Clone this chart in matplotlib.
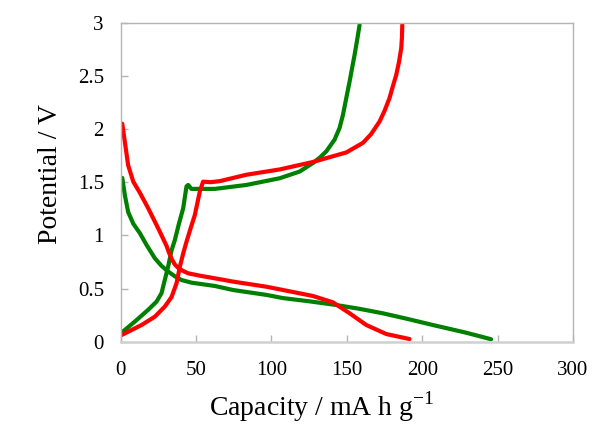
import matplotlib
matplotlib.use("Agg")
import matplotlib.pyplot as plt

# Green discharge
g_dis_x = [1.1, 2.8, 5.0, 8.4, 12.8, 17.2, 22.7, 27.0, 31.5, 36.0, 40.4, 47.0, 62.5, 74.6, 96.7, 107.7, 125.0, 143.0, 158.0, 173.9, 190.0, 207.0, 229.0, 245.7]
g_dis_y = [1.54, 1.38, 1.22, 1.11, 1.02, 0.91, 0.785, 0.715, 0.66, 0.615, 0.58, 0.555, 0.524, 0.486, 0.44, 0.41, 0.38, 0.345, 0.31, 0.267, 0.215, 0.157, 0.085, 0.023]
# Green charge
g_ch_x = [0.7, 9.5, 18.3, 23.8, 27.1, 29.3, 31.5, 33.8, 36.0, 38.5, 41.5, 43.7, 44.8, 47.0, 62.5, 83.4, 105.5, 118.7, 127.5, 132.0, 136.4, 141.9, 145.2, 147.4, 149.5, 151.9, 153.6, 155.2, 157.0, 158.5]
g_ch_y = [0.085, 0.19, 0.30, 0.376, 0.455, 0.58, 0.705, 0.86, 0.957, 1.10, 1.255, 1.46, 1.474, 1.437, 1.437, 1.474, 1.537, 1.60, 1.68, 1.73, 1.79, 1.90, 2.01, 2.13, 2.28, 2.45, 2.58, 2.70, 2.85, 2.98]
# Red discharge
r_dis_x = [1.1, 2.8, 5.0, 8.4, 12.8, 18.3, 24.9, 27.5, 30.5, 32.0, 33.8, 36.0, 38.5, 41.5, 44.8, 53.6, 62.5, 74.6, 96.7, 107.7, 127.5, 140.8, 151.9, 162.9, 176.2, 191.6]
r_dis_y = [2.05, 1.88, 1.66, 1.505, 1.40, 1.255, 1.067, 0.99, 0.90, 0.84, 0.78, 0.725, 0.69, 0.665, 0.643, 0.618, 0.596, 0.565, 0.517, 0.486, 0.43, 0.37, 0.267, 0.157, 0.072, 0.025]
# Red charge
r_ch_x = [0.7, 13.9, 22.7, 29.3, 33.8, 37.1, 39.3, 41.5, 43.7, 46.5, 49.2, 52.5, 54.7, 59.6, 65.8, 83.4, 105.5, 127.5, 149.7, 160.7, 166.0, 171.7, 175.0, 178.3, 180.5, 182.8, 184.6, 186.1, 186.6, 186.8]
r_ch_y = [0.063, 0.157, 0.235, 0.33, 0.42, 0.55, 0.705, 0.83, 0.94, 1.07, 1.19, 1.41, 1.505, 1.50, 1.51, 1.57, 1.62, 1.69, 1.78, 1.87, 1.95, 2.07, 2.17, 2.29, 2.40, 2.51, 2.63, 2.76, 2.87, 2.98]

x_ticks = [0, 50, 100, 150, 200, 250, 300]
y_ticks = [0, 0.5, 1, 1.5, 2, 2.5, 3]
y_ticklabels = ["0", "0.5", "1", "1.5", "2", "2.5", "3"]

plt.rcParams['font.family'] = ['Liberation Serif', 'DejaVu Serif']

fig = plt.figure(figsize=(6.0, 4.34), dpi=100)
ax = fig.add_axes([0.201, 0.2127, 0.754, 0.735])

green = '#008000'
red = '#ff0000'
for xs, ys, c in [(g_dis_x, g_dis_y, green), (g_ch_x, g_ch_y, green),
                  (r_dis_x, r_dis_y, red), (r_ch_x, r_ch_y, red)]:
    ax.plot(xs, ys, color=c, lw=3, solid_capstyle='round', solid_joinstyle='round')

ax.set_xlim(0, 300)
ax.set_ylim(0, 3)
ax.set_xticks(x_ticks)
ax.set_yticks(y_ticks)
ax.set_yticklabels(y_ticklabels)
for s in ax.spines.values():
    s.set_color('#b4b4b4')
    s.set_linewidth(1.0)
ax.spines['bottom'].set_linewidth(1.8)
ax.spines['bottom'].set_color('#d0d0d0')
ax.tick_params(direction='in', length=5, width=1, color='#b4b4b4', labelsize=15, pad=12)
ax.tick_params(axis='x', pad=14)

ax.set_xlabel('Capacity / mA h g$^{\\mathregular{-1}}$', fontsize=20, va='center')
ax.set_ylabel('Potential / V', fontsize=20, va='center')
ax.xaxis.set_label_coords(0.445, -0.205)
ax.yaxis.set_label_coords(-0.155, 0.526)

fig.savefig('out.png', dpi=100)
